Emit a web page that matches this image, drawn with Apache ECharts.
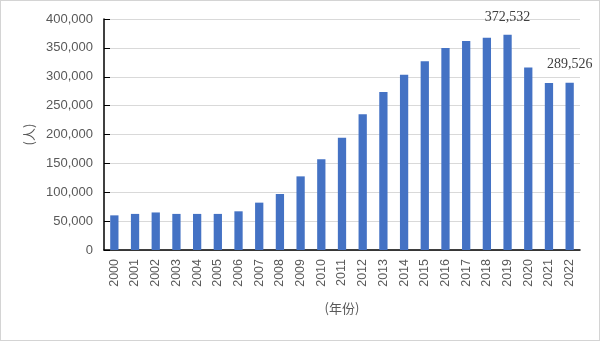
<!DOCTYPE html>
<html><head><meta charset="utf-8">
<script src="https://cdn.jsdelivr.net/npm/echarts@6/dist/echarts.min.js"></script>
<style>html,body{margin:0;padding:0;background:#fff}#c{width:598px;height:339px;border:1px solid #d4d4d4}</style>
</head><body><div id="c"></div>
<script>
const years = ['2000','2001','2002','2003','2004','2005','2006','2007','2008','2009','2010','2011','2012','2013','2014','2015','2016','2017','2018','2019','2020','2021','2022'];
const people = [60000,62500,65000,62500,62500,62500,67000,82000,97000,127500,157000,194500,235000,273500,303500,327000,350000,362000,367500,372532,316000,289000,289526];
const labelled = {'2019':'372,532','2022':'289,526'};
const yTicks = [0,50000,100000,150000,200000,250000,300000,350000,400000];

const chart = echarts.init(document.getElementById('c'));
chart.setOption({
  animation:false,
  grid:{left:103,right:19,top:18,bottom:90},
  xAxis:{type:'category',data:years,
    name:'(年份)',nameLocation:'middle',nameGap:52,
    nameTextStyle:{color:'#595959',fontSize:13,fontFamily:'Noto Sans CJK SC'},
    axisLine:{lineStyle:{color:'#000',width:1.5}},axisTick:{show:false},
    axisLabel:{rotate:90,color:'#595959',fontSize:12.5,fontFamily:'Liberation Sans',margin:9}},
  yAxis:{type:'value',min:0,max:400000,interval:50000,
    name:'(人)',nameLocation:'middle',nameGap:67,nameRotate:90,
    nameTextStyle:{color:'#595959',fontSize:13,fontFamily:'Noto Sans CJK SC'},
    axisLine:{show:true,lineStyle:{color:'#000',width:1.5}},
    axisTick:{show:true,inside:true,length:6,lineStyle:{color:'#000'}},
    splitLine:{lineStyle:{color:'#d9d9d9',width:1}},
    axisLabel:{color:'#595959',fontSize:13,fontFamily:'Liberation Sans',margin:11,
      formatter:v=>v.toLocaleString('en-US')}},
  series:[{type:'bar',data:people,barWidth:'40%',
    itemStyle:{color:'#4472c4'},
    label:{show:true,position:'top',distance:11,color:'#404040',fontSize:14,fontFamily:'Liberation Serif',
      formatter:p=>labelled[p.name]||''}}]
});
</script></body></html>
